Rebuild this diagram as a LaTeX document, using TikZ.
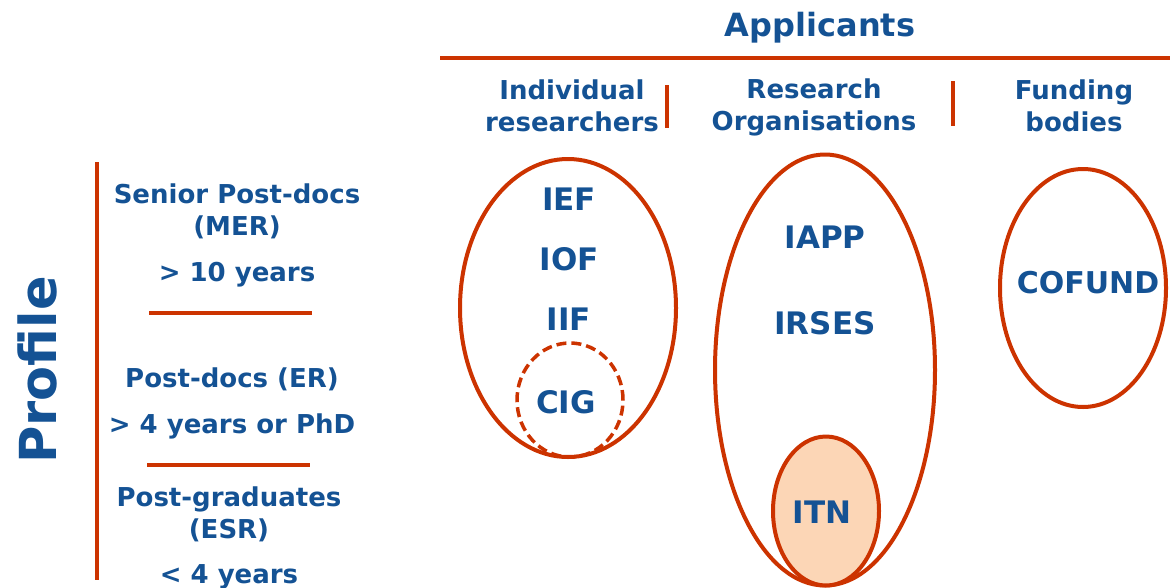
\documentclass[tikz,border=0pt]{standalone}
\usepackage{fontspec}
\setmainfont{DejaVu Sans}
\usetikzlibrary{shapes.geometric}

\definecolor{mcblue}{RGB}{20,82,148}
\definecolor{mcred}{RGB}{204,51,0}
\definecolor{mcpeach}{RGB}{252,214,182}

\tikzset{
  head/.style={text=mcblue,font=\bfseries\fontsize{26}{32}\selectfont,align=center,inner sep=0pt},
  scheme/.style={text=mcblue,font=\bfseries\fontsize{31}{36}\selectfont,inner sep=0pt},
  rule/.style={draw=mcred,line width=4.5pt},
  bag/.style={ellipse,draw=mcred,line width=4pt,inner sep=0pt,outer sep=0pt}
}

\begin{document}
\begin{tikzpicture}[x=1pt,y=-1pt]
\useasboundingbox (0,0) rectangle (1170,587);

%applicants header
\node[head,font=\bfseries\fontsize{32}{36}\selectfont] (applicants) at (820,28) {Applicants};
\draw[rule] (440,58) -- (1170,58);
\node[head] (indiv) at (572,106) {Individual\\researchers};
\node[head] (orgs) at (814,107) {Research\\Organisations};
\node[head] (funders) at (1074,106) {Funding\\bodies};
\draw[rule] (667,85) -- (667,128);
\draw[rule] (953,81) -- (953,126);

%profile column
\node[head,font=\bfseries\fontsize{51}{56}\selectfont,rotate=90] (profile) at (37,370) {Profile};
\draw[rule] (97,162) -- (97,580);
\node[head] (senior) at (237,211) {Senior Post-docs\\(MER)};
\node[head] (ten) at (237,275) {> 10 years};
\draw[rule,line width=4pt] (149,313) -- (312,313);
\node[head] (postdoc) at (232,379) {Post-docs (ER)};
\node[head] (four) at (232,426) {> 4 years or PhD};
\draw[rule,line width=4pt] (147,465) -- (310,465);
\node[head] (grad) at (229,514) {Post-graduates\\(ESR)};
\node[head] (less) at (229,577) {< 4 years};

%individual researchers
\node[bag,minimum width=216pt,minimum height=298pt] (ir) at (568,308) {};
\node[bag,dashed,dash pattern=on 10pt off 5pt,line width=3.5pt,minimum width=106pt,minimum height=114pt] (cigbag) at (570,400) {};
\node[scheme] (ief) at (569,199) {IEF};
\node[scheme] (iof) at (569,259) {IOF};
\node[scheme] (iif) at (569,319) {IIF};
\node[scheme] (cig) at (566,402) {CIG};

%research organisations
\node[bag,minimum width=220pt,minimum height=431pt] (ro) at (825,370) {};
\node[bag,fill=mcpeach,minimum width=106pt,minimum height=149pt] (itnbag) at (826,511) {};
\node[scheme] (iapp) at (825,237) {IAPP};
\node[scheme] (irses) at (825,323) {IRSES};
\node[scheme] (itn) at (822,512) {ITN};

%funding bodies
\node[bag,minimum width=166pt,minimum height=238pt] (fb) at (1083,288) {};
\node[scheme,font=\bfseries\fontsize{30}{36}\selectfont] (cofund) at (1088,283) {COFUND};
\end{tikzpicture}
\end{document}
